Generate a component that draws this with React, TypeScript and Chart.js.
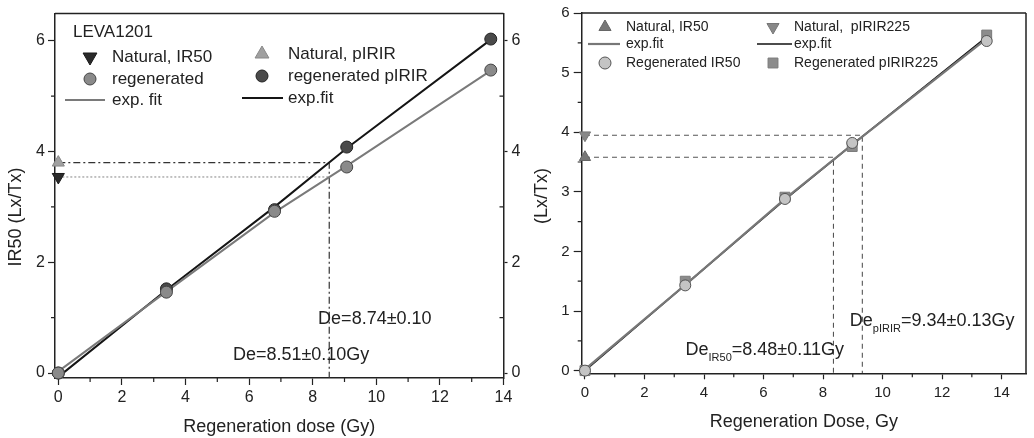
import React, { useEffect, useRef } from "react";
import { Chart, registerables } from "chart.js";

Chart.register(...registerables);

const FONT = "'Liberation Sans', Arial, Helvetica, sans-serif";
const INK = "#222";

// ---------- Left panel (LEVA1201) ----------
const leftDoses = [0, 3.4, 6.8, 9.07, 13.6];
const leftRegenIR50 = [0, 1.46, 2.92, 3.72, 5.47];
const leftRegenPIRIR = [0, 1.52, 2.95, 4.08, 6.03];
const leftNaturalIR50 = [3.54];
const leftNaturalPIRIR = [3.8];
const leftNaturalDose = [0];
const leftFitIR50 = [0.03, 1.47, 2.9, 3.74, 5.46];
const leftFitPIRIR = [-0.07, 1.5, 3.0, 4.06, 6.02];
const leftCrossDose = 8.52;
const leftXTicks = [0, 2, 4, 6, 8, 10, 12, 14];
const leftXMinor = [1, 3, 5, 7, 9, 11, 13];
const leftYTicks = [0, 2, 4, 6];
const leftYMinor = [1, 3, 5];

// ---------- Right panel ----------
const rightDoses = [0, 3.37, 6.72, 8.98, 13.5];
const rightRegenIR50 = [0, 1.43, 2.88, 3.82, 5.53];
const rightRegenPIRIR = [0, 1.5, 2.91, 3.76, 5.63];
const rightNaturalDose = [0];
const rightNaturalIR50 = [3.58];
const rightNaturalPIRIR = [3.95];
const rightFitIR50 = [0.02, 1.44, 2.88, 3.79, 5.57];
const rightFitPIRIR = [0, 1.44, 2.87, 3.79, 5.6];
const rightDeIR50 = 8.35;
const rightDePIRIR = 9.32;
const rightXTicks = [0, 2, 4, 6, 8, 10, 12, 14];
const rightXMinor = [1, 3, 5, 7, 9, 11, 13];
const rightYTicks = [0, 1, 2, 3, 4, 5, 6];
const rightYMinor = [0.5, 1.5, 2.5, 3.5, 4.5, 5.5];

const pts = (xs: number[], ys: number[]) => xs.map((x, i) => ({ x, y: ys[i] }));

function drawSymbol(
  ctx: CanvasRenderingContext2D,
  style: string,
  x: number,
  y: number,
  r: number,
  rot: number,
  fill: string,
  stroke: string,
  bw: number
) {
  ctx.save();
  ctx.beginPath();
  if (style === "circle") {
    ctx.arc(x, y, r, 0, Math.PI * 2);
  } else if (style === "triangle") {
    const a0 = (rot * Math.PI) / 180;
    for (let i = 0; i < 3; i++) {
      const a = a0 + (i * 2 * Math.PI) / 3;
      const px = x + Math.sin(a) * r;
      const py = y - Math.cos(a) * r;
      if (i === 0) ctx.moveTo(px, py);
      else ctx.lineTo(px, py);
    }
    ctx.closePath();
  } else if (style === "rect") {
    const s = r * Math.SQRT1_2;
    ctx.rect(x - s, y - s, 2 * s, 2 * s);
  }
  ctx.fillStyle = fill;
  ctx.fill();
  if (bw > 0) {
    ctx.strokeStyle = stroke;
    ctx.lineWidth = bw;
    ctx.stroke();
  }
  ctx.restore();
}

type LegendItem = {
  ds: number;
  kind: "point" | "line";
  x: number;
  y: number;
  x2?: number;
  r?: number;
  textX: number;
  text: string;
};
type AnnoPart = { t: string; size: number; dy?: number };
type Anno = { x: number; y: number; parts: AnnoPart[] };
type Minor = { axis: string; values: number[]; len: number; dir: number };

type DecorCfg = {
  legendFont: number;
  legendTitle?: { text: string; x: number; y: number };
  legend: LegendItem[];
  annos: Anno[];
  yTitle: { text: string; x: number; y: number; size: number };
  minors: Minor[];
  frameTop: boolean;
  frameRight: boolean;
};

function makeDecor(cfg: DecorCfg) {
  return {
    id: "decor",
    afterDraw(chart: any) {
      const ctx: CanvasRenderingContext2D = chart.ctx;
      const area = chart.chartArea;
      ctx.save();
      // frame
      ctx.strokeStyle = INK;
      ctx.lineWidth = 1.5;
      ctx.beginPath();
      if (cfg.frameTop) {
        ctx.moveTo(area.left, area.top);
        ctx.lineTo(area.right, area.top);
      }
      if (cfg.frameRight) {
        ctx.moveTo(area.right, area.top);
        ctx.lineTo(area.right, area.bottom);
      }
      ctx.stroke();
      // minor ticks
      ctx.lineWidth = 1.2;
      for (const m of cfg.minors) {
        const sc = chart.scales[m.axis];
        ctx.beginPath();
        for (const v of m.values) {
          const p = sc.getPixelForValue(v);
          if (sc.isHorizontal()) {
            ctx.moveTo(p, area.bottom);
            ctx.lineTo(p, area.bottom + m.dir * m.len);
          } else if (sc.position === "left") {
            ctx.moveTo(area.left, p);
            ctx.lineTo(area.left - m.dir * m.len, p);
          } else {
            ctx.moveTo(area.right, p);
            ctx.lineTo(area.right + m.dir * m.len, p);
          }
        }
        ctx.stroke();
      }
      // y title
      ctx.fillStyle = INK;
      ctx.font = `${cfg.yTitle.size}px ${FONT}`;
      ctx.textAlign = "center";
      ctx.textBaseline = "middle";
      ctx.save();
      ctx.translate(cfg.yTitle.x, cfg.yTitle.y);
      ctx.rotate(-Math.PI / 2);
      ctx.fillText(cfg.yTitle.text, 0, 0);
      ctx.restore();
      // annotations
      ctx.textAlign = "left";
      const xs = chart.scales.x;
      const ys = chart.scales.y;
      for (const a of cfg.annos) {
        let px = xs.getPixelForValue(a.x);
        const py = ys.getPixelForValue(a.y);
        for (const part of a.parts) {
          ctx.font = `${part.size}px ${FONT}`;
          ctx.fillText(part.t, px, py + (part.dy || 0));
          px += ctx.measureText(part.t).width;
        }
      }
      // legend
      ctx.font = `${cfg.legendFont}px ${FONT}`;
      if (cfg.legendTitle) {
        ctx.fillText(cfg.legendTitle.text, cfg.legendTitle.x, cfg.legendTitle.y);
      }
      for (const it of cfg.legend) {
        const ds = chart.data.datasets[it.ds];
        if (it.kind === "line") {
          ctx.save();
          ctx.strokeStyle = ds.borderColor;
          ctx.lineWidth = ds.borderWidth;
          ctx.beginPath();
          ctx.moveTo(it.x, it.y);
          ctx.lineTo(it.x2 || it.x, it.y);
          ctx.stroke();
          ctx.restore();
        } else {
          drawSymbol(
            ctx,
            ds.pointStyle,
            it.x,
            it.y,
            it.r || ds.pointRadius,
            ds.pointRotation || 0,
            ds.pointBackgroundColor,
            ds.pointBorderColor,
            ds.pointBorderWidth
          );
        }
        ctx.fillStyle = INK;
        ctx.font = `${cfg.legendFont}px ${FONT}`;
        ctx.fillText(it.text, it.textX, it.y);
      }
      ctx.restore();
    },
  };
}

function fixedTicks(values: number[]) {
  return (scale: any) => {
    scale.ticks = values.map((v) => ({ value: v }));
  };
}

function axisX(min: number, max: number, ticks: number[], height: number, tickFont: number, pad: number, tl: number, title: string, titlePad: number) {
  return {
    type: "linear",
    position: "bottom",
    min,
    max,
    afterBuildTicks: fixedTicks(ticks),
    afterFit: (s: any) => {
      s.height = height;
    },
    ticks: { font: { size: tickFont, family: FONT }, color: INK, padding: pad, maxRotation: 0, autoSkip: false },
    grid: { drawOnChartArea: false, drawTicks: true, tickLength: tl, tickColor: INK, tickWidth: 1.2 },
    border: { display: true, color: INK, width: 1.5 },
    title: { display: true, text: title, color: INK, font: { size: 18, family: FONT }, padding: { top: 0, bottom: titlePad } },
  };
}

function axisY(pos: string, min: number, max: number, ticks: number[], width: number, tickFont: number, pad: number, tl: number) {
  return {
    type: "linear",
    position: pos,
    min,
    max,
    afterBuildTicks: fixedTicks(ticks),
    afterFit: (s: any) => {
      s.width = width;
    },
    ticks: { font: { size: tickFont, family: FONT }, color: INK, padding: pad, autoSkip: false },
    grid: { drawOnChartArea: false, drawTicks: true, tickLength: tl, tickColor: INK, tickWidth: 1.2 },
    border: { display: true, color: INK, width: 1.5 },
    title: { display: false },
  };
}

function marker(label: string, data: any[], style: string, r: number, fill: string, stroke: string, rot = 0) {
  return {
    label,
    data,
    showLine: false,
    clip: false,
    pointStyle: style,
    pointRadius: r,
    pointRotation: rot,
    pointBackgroundColor: fill,
    pointBorderColor: stroke,
    pointBorderWidth: 1,
    backgroundColor: fill,
    borderColor: stroke,
    order: 1,
  };
}

function line(label: string, data: any[], color: string, width: number, dash: number[] = [], order = 5) {
  return {
    label,
    data,
    showLine: true,
    borderColor: color,
    borderWidth: width,
    borderDash: dash,
    pointRadius: 0,
    pointHoverRadius: 0,
    fill: false,
    tension: 0,
    order,
  };
}

const LEFT_YMIN = -0.09;
const RIGHT_YMIN = -0.045;

function leftConfig(): any {
  const datasets = [
    marker("Natural, IR50", pts(leftNaturalDose, leftNaturalIR50), "triangle", 7, "#2a2a2a", "#1a1a1a", 180), // 0
    marker("regenerated", pts(leftDoses, leftRegenIR50), "circle", 6, "#8a8a8a", "#444", 0), // 1
    line("exp. fit", pts(leftDoses, leftFitIR50), "#7a7a7a", 2), // 2
    marker("Natural, pIRIR", pts(leftNaturalDose, leftNaturalPIRIR), "triangle", 7, "#a0a0a0", "#888", 0), // 3
    marker("regenerated pIRIR", pts(leftDoses, leftRegenPIRIR), "circle", 6, "#4a4a4a", "#222", 0), // 4
    line("exp.fit", pts(leftDoses, leftFitPIRIR), "#151515", 2), // 5
    line(
      "pIRIR De",
      [
        { x: 0, y: leftNaturalPIRIR[0] },
        { x: leftCrossDose, y: leftNaturalPIRIR[0] },
        { x: leftCrossDose, y: LEFT_YMIN },
      ],
      "#333",
      1.2,
      [7, 3, 2, 3],
      10
    ),
    line(
      "IR50 De",
      [
        { x: 0, y: leftNaturalIR50[0] },
        { x: leftCrossDose, y: leftNaturalIR50[0] },
      ],
      "#999",
      1.2,
      [2, 2],
      10
    ),
  ];
  const decor = makeDecor({
    legendFont: 17,
    legendTitle: { text: "LEVA1201", x: 73, y: 32 },
    legend: [
      { ds: 0, kind: "point", x: 90, y: 57, r: 8, textX: 112, text: "Natural, IR50" },
      { ds: 1, kind: "point", x: 90, y: 79, r: 6, textX: 112, text: "regenerated" },
      { ds: 2, kind: "line", x: 65, x2: 105, y: 100, textX: 112, text: "exp. fit" },
      { ds: 3, kind: "point", x: 262, y: 54, r: 8, textX: 288, text: "Natural, pIRIR" },
      { ds: 4, kind: "point", x: 262, y: 76, r: 6, textX: 288, text: "regenerated pIRIR" },
      { ds: 5, kind: "line", x: 242, x2: 283, y: 98, textX: 288, text: "exp.fit" },
    ],
    annos: [
      { x: 8.17, y: 0.97, parts: [{ t: "De=8.74±0.10", size: 18 }] },
      { x: 5.49, y: 0.32, parts: [{ t: "De=8.51±0.10Gy", size: 18 }] },
    ],
    yTitle: { text: "IR50 (Lx/Tx)", x: 16, y: 217, size: 18 },
    minors: [
      { axis: "x", values: leftXMinor, len: 4, dir: 1 },
      { axis: "y", values: leftYMinor, len: 4, dir: 1 },
      { axis: "y2", values: leftYMinor, len: 4, dir: -1 },
    ],
    frameTop: true,
    frameRight: false,
  });
  return {
    type: "scatter",
    data: { datasets },
    options: {
      responsive: false,
      animation: false,
      devicePixelRatio: 1,
      layout: { padding: { top: 13.3, left: 0, right: 0, bottom: 0 } },
      plugins: { legend: { display: false }, tooltip: { enabled: false } },
      scales: {
        x: axisX(-0.104, 14, leftXTicks, 60, 16, 3, 7, "Regeneration dose (Gy)", 0),
        y: axisY("left", LEFT_YMIN, 6.49, leftYTicks, 55, 16, 3, 7),
        y2: axisY("right", LEFT_YMIN, 6.49, leftYTicks, 26.5, 16, 4, 4),
      },
    },
    plugins: [decor],
  };
}

function rightConfig(): any {
  const datasets = [
    marker("Natural, IR50", pts(rightNaturalDose, rightNaturalIR50), "triangle", 6.5, "#777", "#666", 0), // 0
    line("exp.fit", pts(rightDoses, rightFitIR50), "#777", 2.2), // 1
    marker("Regenerated IR50", pts(rightDoses, rightRegenIR50), "circle", 5.5, "#c4c4c4", "#555", 0), // 2
    marker("Natural,  pIRIR225", pts(rightNaturalDose, rightNaturalPIRIR), "triangle", 6.5, "#888", "#777", 180), // 3
    line("exp.fit", pts(rightDoses, rightFitPIRIR), "#111", 1.6), // 4
    marker("Regenerated pIRIR225", pts(rightDoses, rightRegenPIRIR), "rect", 7, "#8c8c8c", "#7a7a7a", 0), // 5
    line(
      "pIRIR De",
      [
        { x: 0, y: rightNaturalPIRIR[0] },
        { x: rightDePIRIR, y: rightNaturalPIRIR[0] },
        { x: rightDePIRIR, y: RIGHT_YMIN },
      ],
      "#555",
      1.1,
      [5, 4],
      10
    ),
    line(
      "IR50 De",
      [
        { x: 0, y: rightNaturalIR50[0] },
        { x: rightDeIR50, y: rightNaturalIR50[0] },
        { x: rightDeIR50, y: RIGHT_YMIN },
      ],
      "#555",
      1.1,
      [5, 4],
      10
    ),
  ];
  const decor = makeDecor({
    legendFont: 14,
    legend: [
      { ds: 0, kind: "point", x: 75, y: 27, r: 7, textX: 96, text: "Natural, IR50" },
      { ds: 1, kind: "line", x: 58, x2: 90, y: 44, textX: 96, text: "exp.fit" },
      { ds: 2, kind: "point", x: 75, y: 63, r: 6, textX: 96, text: "Regenerated IR50" },
      { ds: 3, kind: "point", x: 243, y: 27, r: 7, textX: 264, text: "Natural,  pIRIR225" },
      { ds: 4, kind: "line", x: 227, x2: 262, y: 44, textX: 264, text: "exp.fit" },
      { ds: 5, kind: "point", x: 243, y: 63, r: 7, textX: 264, text: "Regenerated pIRIR225" },
    ],
    annos: [
      {
        x: 8.9,
        y: 0.84,
        parts: [
          { t: "De", size: 18 },
          { t: "pIRIR", size: 11, dy: 8 },
          { t: "=9.34±0.13Gy", size: 18 },
        ],
      },
      {
        x: 3.38,
        y: 0.34,
        parts: [
          { t: "De", size: 18 },
          { t: "IR50", size: 11, dy: 8 },
          { t: "=8.48±0.11Gy", size: 18 },
        ],
      },
    ],
    yTitle: { text: "(Lx/Tx)", x: 12, y: 196, size: 18 },
    minors: [
      { axis: "x", values: rightXMinor, len: 4, dir: 1 },
      { axis: "y", values: rightYMinor, len: 4, dir: 1 },
    ],
    frameTop: true,
    frameRight: true,
  });
  return {
    type: "scatter",
    data: { datasets },
    options: {
      responsive: false,
      animation: false,
      devicePixelRatio: 1,
      layout: { padding: { top: 9.3, left: 0, right: 3, bottom: 0 } },
      plugins: { legend: { display: false }, tooltip: { enabled: false } },
      scales: {
        x: axisX(-0.11, 14.82, rightXTicks, 64.7, 15, 5, 6, "Regeneration Dose, Gy", 5.5),
        y: axisY("left", RIGHT_YMIN, 6.0, rightYTicks, 51.7, 15, 4, 8),
      },
    },
    plugins: [decor],
  };
}

function Panel({ left, width, make }: { left: number; width: number; make: () => any }) {
  const ref = useRef<HTMLCanvasElement>(null);
  useEffect(() => {
    if (!ref.current) return;
    const chart = new Chart(ref.current, make());
    return () => chart.destroy();
  }, []);
  return (
    <canvas
      ref={ref}
      width={width}
      height={438}
      style={{ position: "absolute", left, top: 0, width, height: 438, display: "block" }}
    />
  );
}

export default function App() {
  return (
    <div style={{ position: "fixed", left: 0, top: 0, width: 1034, height: 438, background: "#fff", overflow: "hidden" }}>
      <Panel left={0} width={530} make={leftConfig} />
      <Panel left={530} width={504} make={rightConfig} />
    </div>
  );
}
